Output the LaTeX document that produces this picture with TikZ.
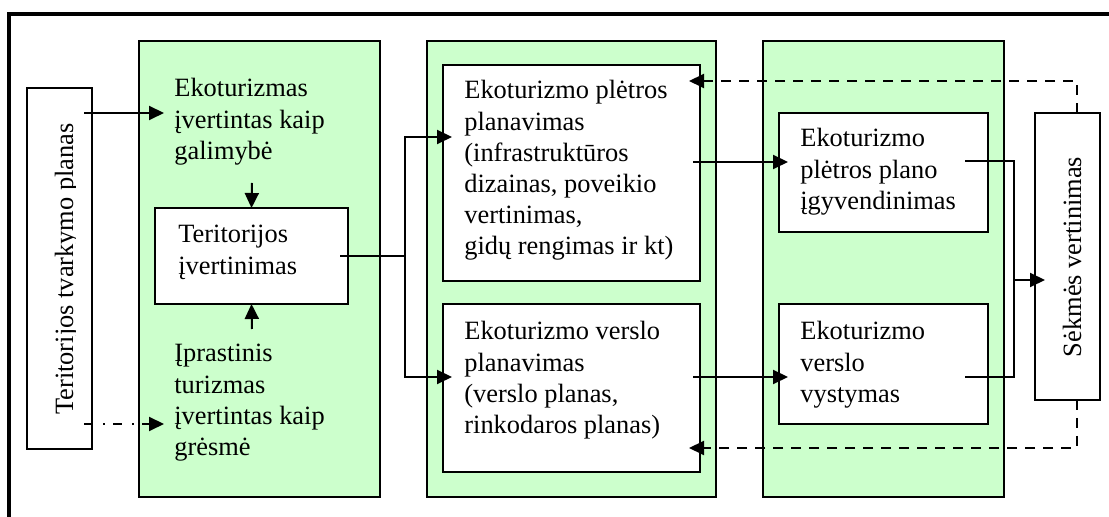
\documentclass[tikz,border=0pt]{standalone}
\usepackage{fontspec}
\setmainfont{Liberation Serif}
\usetikzlibrary{arrows.meta}
\definecolor{lgreen}{RGB}{204,255,204}
\newcommand{\mylines}[1]{\begin{tabular}[t]{@{}l@{}}#1\end{tabular}}
\begin{document}
\begin{tikzpicture}[x=0.5pt,y=-0.5pt,
  font=\fontsize{13.2pt}{15.6pt}\selectfont,
  greenbox/.style={draw, line width=0.8pt, fill=lgreen, anchor=north west, inner sep=0pt, outer sep=0pt},
  whitebox/.style={draw, line width=0.8pt, fill=white, anchor=north west, inner sep=0pt, outer sep=0pt},
  txt/.style={anchor=base west, inner sep=0pt},
  conn/.style={line width=1pt},
  arr/.style={line width=1pt, -{Triangle[length=7.5pt,width=7pt]}},
  dashconn/.style={line width=1pt, dash pattern=on 5pt off 4pt},
]
\clip (0,0) rectangle (1109,517);
% outer frame
\draw[line width=2.2pt] (9,14) rectangle (1140,560);
% green panels
\node[greenbox, minimum width=120.5pt, minimum height=228pt] (gA) at (139,41) {};
\node[greenbox, minimum width=144.5pt, minimum height=228pt] (gB) at (427,41) {};
\node[greenbox, minimum width=120.5pt, minimum height=228pt] (gC) at (763,41) {};
% white boxes
\node[whitebox, minimum width=32.5pt, minimum height=180.5pt] (lb) at (27,88) {};
\node[whitebox, minimum width=32.5pt, minimum height=143.5pt] (rb) at (1035,113) {};
\node[whitebox, minimum width=96.5pt, minimum height=48pt] (ter) at (155,208) {};
\node[whitebox, minimum width=128.5pt, minimum height=108pt] (p1) at (443,65) {};
\node[whitebox, minimum width=128.5pt, minimum height=84pt] (p2) at (443,304) {};
\node[whitebox, minimum width=104.5pt, minimum height=59.5pt] (g1) at (779,113) {};
\node[whitebox, minimum width=104.5pt, minimum height=60pt] (g2) at (779,304) {};
% rotated texts
\begin{scope}
\clip (27,88) rectangle (75.5,449);
\node[rotate=90, anchor=base, inner sep=0pt] (lbt) at (73,269) {Teritorijos tvarkymo planas};
\end{scope}
\node[rotate=90, anchor=base, inner sep=0pt] (rbt) at (1081,257) {Sėkmės vertinimas};
% texts
\node[txt] (teko) at (174,97) {\mylines{Ekoturizmas\\ įvertintas kaip\\ galimybė}};
\node[txt] (tter) at (178,243) {\mylines{Teritorijos\\ įvertinimas}};
\node[txt] (tipr) at (174,362) {\mylines{Įprastinis\\ turizmas\\ įvertintas kaip\\ grėsmė}};
\node[txt] (tp1) at (464,99) {\mylines{Ekoturizmo plėtros\\ planavimas\\ (infrastruktūros\\ dizainas, poveikio\\ vertinimas,\\ gidų rengimas ir kt)}};
\node[txt] (tp2) at (464,340) {\mylines{Ekoturizmo verslo\\ planavimas\\ (verslo planas,\\ rinkodaros planas)}};
\node[txt] (tg1) at (800,147) {\mylines{Ekoturizmo\\ plėtros plano\\ įgyvendinimas}};
\node[txt] (tg2) at (800,340) {\mylines{Ekoturizmo\\ verslo\\ vystymas}};
% coordinates
\coordinate (a1s) at (84,113);
\coordinate (a1e) at (164,113);
\coordinate (a2s) at (84,424);
\coordinate (a2e) at (164,424);
\coordinate (a3s) at (252,183);
\coordinate (a4s) at (252,329);
\coordinate (j0) at (340,256);
\coordinate (j1) at (405,256);
\coordinate (t1) at (452,137);
\coordinate (t2) at (452,377);
\coordinate (b1s) at (693,162);
\coordinate (b1e) at (788,162);
\coordinate (b2s) at (693,377);
\coordinate (b2e) at (788,377);
\coordinate (c1s) at (965,161);
\coordinate (cv1) at (1014,161);
\coordinate (cv2) at (1014,377);
\coordinate (c2s) at (965,377);
\coordinate (cj) at (1014,280);
\coordinate (ce) at (1045,280);
\coordinate (d1s) at (1077,113);
\coordinate (d1) at (1077,81);
\coordinate (d1e) at (689,81);
\coordinate (d2s) at (1077,400);
\coordinate (d2) at (1077,448);
\coordinate (d2e) at (689,448);
% connectors
\draw[arr] (a1s) -- (a1e);
\draw[arr, dash pattern=on 4.5pt off 5pt on 1pt off 4pt] (a2s) -- (a2e);
\draw[arr] (a3s) -- (ter.north);
\draw[arr] (a4s) -- (ter.south);
\draw[conn] (j0) -- (j1);
\draw[arr] (j1) |- (t1);
\draw[arr] (j1) |- (t2);
\draw[arr] (b1s) -- (b1e);
\draw[arr] (b2s) -- (b2e);
\draw[conn] (c1s) -- (cv1) -- (cv2) -- (c2s);
\draw[arr] (cj) -- (ce);
\draw[dashconn, -{Triangle[length=7.5pt,width=7pt]}] (d1s) -- (d1) -- (d1e);
\draw[dashconn, -{Triangle[length=7.5pt,width=7pt]}] (d2s) -- (d2) -- (d2e);
\end{tikzpicture}
\end{document}
